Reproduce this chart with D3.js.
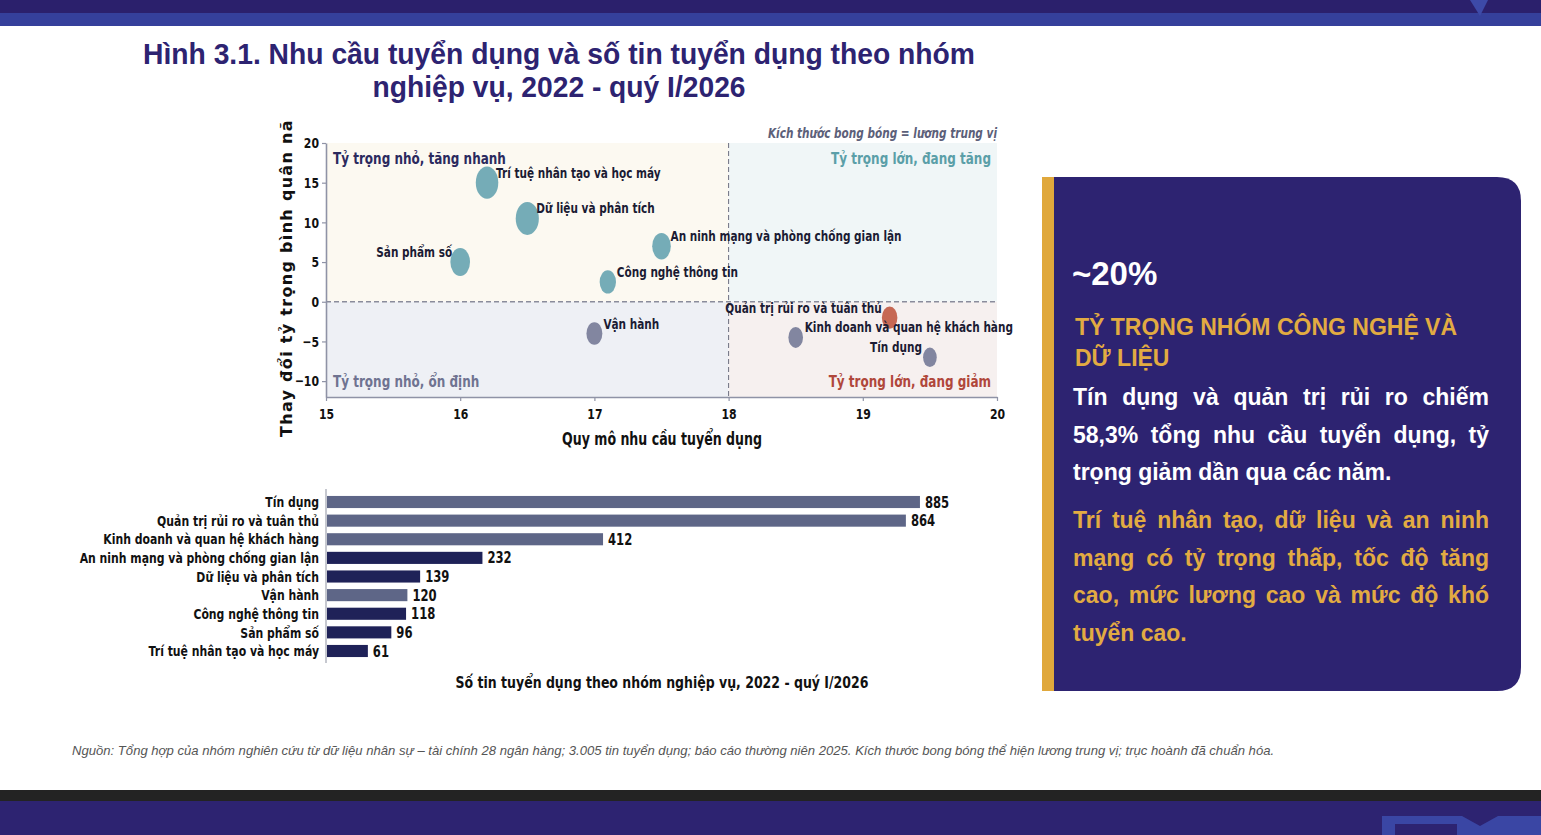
<!DOCTYPE html>
<html>
<head>
<meta charset="utf-8">
<script src="https://cdn.jsdelivr.net/npm/d3@7"></script>
<style>
body { margin: 0; background: #fff; }
svg { display: block; }
</style>
</head>
<body>
<div id="chart"></div>
<script>
// categories as they appear in the bar chart, top to bottom
var categories = ["Tín dụng", "Quản trị rủi ro và tuân thủ", "Kinh doanh và quan hệ khách hàng",
        "An ninh mạng và phòng chống gian lận", "Dữ liệu và phân tích", "Vận hành",
        "Công nghệ thông tin", "Sản phẩm số", "Trí tuệ nhân tạo và học máy"],
    groups = ["core", "core", "core", "tech", "tech", "core", "tech", "tech", "tech"],
    postings = [885, 864, 412, 232, 139, 120, 118, 96, 61],
    demandScale = [19.5, 19.2, 18.5, 17.5, 16.5, 17.0, 17.1, 16.0, 16.2],
    shareChange = [-7, -2, -4.5, 7, 10.5, -4, 2.5, 5, 15],
    medianSalary = [14, 18, 16, 26, 40, 19, 20, 29, 38],
    xTicks = [15, 16, 17, 18, 19, 20],
    yTicks = [-10, -5, 0, 5, 10, 15, 20];

var W = 1541, H = 835,
    K = 0.75,
    chartFont = "'DejaVu Sans', sans-serif",
    navy = "#2d2371",
    gold = "#e2ab42";

var svg = d3.select("#chart").append("svg").attr("width", W).attr("height", H);

// squeeze text horizontally like the original (narrow render)
var squish = function(sel, k) {
    sel.each(function() {
        var w = this.getComputedTextLength();
        d3.select(this).attr("textLength", w * k).attr("lengthAdjust", "spacingAndGlyphs");
    });
};

// page bands
svg.append("rect").attr("x", 0).attr("y", 0).attr("width", W).attr("height", 13).attr("fill", "#2b206c");
svg.append("rect").attr("x", 0).attr("y", 13).attr("width", W).attr("height", 13).attr("fill", "#35409b");
svg.append("path").attr("d", "M1470,0 L1488,0 L1480,16 Z").attr("fill", "#3d4aa8");
svg.append("rect").attr("x", 0).attr("y", 790).attr("width", W).attr("height", 11).attr("fill", "#232323");
svg.append("rect").attr("x", 0).attr("y", 801).attr("width", W).attr("height", 34).attr("fill", navy);
svg.append("path").attr("d", "M1382,835 L1382,816 L1462,816 L1480,826 L1498,816 L1541,816 L1541,835 Z").attr("fill", "#3a46a4");
svg.append("rect").attr("x", 1395).attr("y", 824).attr("width", 62).attr("height", 11).attr("fill", navy);

// title
var title = svg.append("g").attr("font-family", "'Liberation Sans', Arial, sans-serif")
    .attr("font-weight", "bold").attr("font-size", 29).attr("fill", navy).attr("text-anchor", "middle");
title.append("text").attr("x", 559).attr("y", 64)
    .text("Hình 3.1. Nhu cầu tuyển dụng và số tin tuyển dụng theo nhóm")
    .attr("textLength", 832).attr("lengthAdjust", "spacingAndGlyphs");
title.append("text").attr("x", 559).attr("y", 97)
    .text("nghiệp vụ, 2022 - quý I/2026")
    .attr("textLength", 373).attr("lengthAdjust", "spacingAndGlyphs");

// ---------- bubble chart ----------
var sx = d3.scaleLinear().domain([15, 20]).range([326, 997]),
    sy = d3.scaleLinear().domain([-12, 20]).range([397, 143]),
    sr = d3.scaleSqrt().domain([0, 40]).range([0, 16.5]);

var plot = svg.append("g").attr("font-family", chartFont).attr("font-weight", "bold");

var quads = [
    {x0: 15, x1: 18, y0: 0, y1: 20, fill: "#fcf9f1"},
    {x0: 18, x1: 20, y0: 0, y1: 20, fill: "#f0f6f7"},
    {x0: 15, x1: 18, y0: -12, y1: 0, fill: "#eef0f5"},
    {x0: 18, x1: 20, y0: -12, y1: 0, fill: "#f6f0ef"}
];
plot.selectAll("rect.quad").data(quads).enter().append("rect").attr("class", "quad")
    .attr("x", function(d) { return sx(d.x0); })
    .attr("y", function(d) { return sy(d.y1); })
    .attr("width", function(d) { return sx(d.x1) - sx(d.x0); })
    .attr("height", function(d) { return sy(d.y0) - sy(d.y1); })
    .attr("fill", function(d) { return d.fill; });

plot.append("line").attr("x1", sx(15)).attr("x2", sx(20)).attr("y1", sy(0)).attr("y2", sy(0))
    .attr("stroke", "#8a8c9c").attr("stroke-width", 1.3).attr("stroke-dasharray", "5,3");
plot.append("line").attr("x1", sx(18)).attr("x2", sx(18)).attr("y1", sy(20)).attr("y2", sy(-12))
    .attr("stroke", "#6e7080").attr("stroke-width", 1).attr("stroke-dasharray", "5,3");

// axes
var yAxis = plot.append("g").attr("transform", "translate(326,0)")
    .call(d3.axisLeft(sy).tickValues(yTicks).tickSize(4).tickSizeOuter(0).tickPadding(3));
var xAxis = plot.append("g").attr("transform", "translate(0,397)")
    .call(d3.axisBottom(sx).tickValues(xTicks).tickFormat(d3.format("d")).tickSize(4).tickSizeOuter(0).tickPadding(8));
[yAxis, xAxis].forEach(function(ax) {
    ax.attr("font-family", chartFont).attr("font-weight", "bold").attr("font-size", 14.5);
    ax.select(".domain").attr("stroke", "#8f93a6").attr("stroke-width", 1.6);
    ax.selectAll(".tick line").attr("stroke", "#8f93a6").attr("stroke-width", 1.2);
    ax.selectAll(".tick text").attr("fill", "#111");
    squish(ax.selectAll(".tick text"), K);
});

// quadrant captions
var caps = [
    {t: "Tỷ trọng nhỏ, tăng nhanh", x: 333, y: 164, a: "start", c: "#2b2a5e"},
    {t: "Tỷ trọng lớn, đang tăng", x: 991, y: 164, a: "end", c: "#5b9fa8"},
    {t: "Tỷ trọng nhỏ, ổn định", x: 333, y: 387, a: "start", c: "#6f7391"},
    {t: "Tỷ trọng lớn, đang giảm", x: 991, y: 387, a: "end", c: "#b0473b"}
];
squish(plot.selectAll("text.cap").data(caps).enter().append("text").attr("class", "cap")
    .attr("x", function(d) { return d.x; }).attr("y", function(d) { return d.y; })
    .attr("text-anchor", function(d) { return d.a; })
    .attr("fill", function(d) { return d.c; }).attr("font-size", 16)
    .text(function(d) { return d.t; }), K);

squish(plot.append("text").attr("x", 997).attr("y", 138).attr("text-anchor", "end")
    .attr("font-size", 14).attr("font-style", "italic").attr("fill", "#5c6079")
    .text("Kích thước bong bóng = lương trung vị"), K);

// bubbles
var points = categories.map(function(c, i) {
    return {name: c, group: groups[i], x: demandScale[i], y: shareChange[i], s: medianSalary[i]};
});
var highlight = "Quản trị rủi ro và tuân thủ",
    leftLabels = ["Sản phẩm số", "Quản trị rủi ro và tuân thủ", "Tín dụng"];
var bubbleColor = function(d) {
    if (d.name === highlight) return "#c3604b";
    return d.group === "tech" ? "#6ea8b3" : "#7b7f9b";
};

plot.selectAll("ellipse.bubble").data(points).enter().append("ellipse").attr("class", "bubble")
    .attr("cx", function(d) { return sx(d.x); })
    .attr("cy", function(d) { return sy(d.y); })
    .attr("rx", function(d) { return sr(d.s) * 0.7; })
    .attr("ry", function(d) { return sr(d.s); })
    .attr("fill", bubbleColor).attr("fill-opacity", 0.95);

squish(plot.selectAll("text.blabel").data(points).enter().append("text").attr("class", "blabel")
    .attr("x", function(d) { return sx(d.x) + (leftLabels.indexOf(d.name) >= 0 ? -8 : 9); })
    .attr("y", function(d) { return sy(d.y) - 5; })
    .attr("text-anchor", function(d) { return leftLabels.indexOf(d.name) >= 0 ? "end" : "start"; })
    .attr("font-size", 14).attr("fill", "#1b1b33")
    .text(function(d) { return d.name; }), K);

// y axis title, clipped at the top like the original crop
svg.append("clipPath").attr("id", "yclip").append("rect")
    .attr("x", 260).attr("y", 118).attr("width", 50).attr("height", 340);
svg.append("g").attr("clip-path", "url(#yclip)")
    .append("text")
    .attr("transform", "translate(292,437) rotate(-90)")
    .attr("font-family", chartFont).attr("font-weight", "bold").attr("font-size", 16)
    .attr("letter-spacing", 1.3).attr("fill", "#111")
    .text("Thay đổi tỷ trọng bình quân năm (%)");

squish(plot.append("text").attr("x", 662).attr("y", 445).attr("text-anchor", "middle")
    .attr("font-size", 16.8).attr("fill", "#111").text("Quy mô nhu cầu tuyển dụng"), K);

// ---------- bar chart ----------
var bx = d3.scaleLinear().domain([0, 1000]).range([327, 997]),
    by = d3.scaleBand().domain(categories).range([492.7, 660.3]).paddingInner(0.35).paddingOuter(0.175);

var bars = svg.append("g").attr("font-family", chartFont).attr("font-weight", "bold");
bars.selectAll("rect").data(points).enter().append("rect")
    .attr("x", bx(0))
    .attr("y", function(d) { return by(d.name); })
    .attr("width", function(d, i) { return bx(postings[i]) - bx(0); })
    .attr("height", by.bandwidth())
    .attr("fill", function(d) { return d.group === "tech" ? "#1f2258" : "#5e6687"; });

bars.append("line").attr("x1", 326).attr("x2", 326).attr("y1", 489).attr("y2", 663)
    .attr("stroke", "#a0a3b0").attr("stroke-width", 1.2);

squish(bars.selectAll("text.val").data(postings).enter().append("text").attr("class", "val")
    .attr("x", function(d) { return bx(d) + 5; })
    .attr("y", function(d, i) { return by(categories[i]) + by.bandwidth() / 2; })
    .attr("dy", "0.36em").attr("font-size", 15.5).attr("fill", "#111")
    .text(function(d) { return d; }), K);

squish(bars.selectAll("text.cat").data(categories).enter().append("text").attr("class", "cat")
    .attr("x", 319)
    .attr("y", function(d) { return by(d) + by.bandwidth() / 2; })
    .attr("dy", "0.36em").attr("text-anchor", "end").attr("font-size", 14.5).attr("fill", "#111")
    .text(function(d) { return d; }), K);

squish(bars.append("text").attr("x", 662).attr("y", 688).attr("text-anchor", "middle")
    .attr("font-size", 16.7).attr("fill", "#111")
    .text("Số tin tuyển dụng theo nhóm nghiệp vụ, 2022 - quý I/2026"), K);

// ---------- side panel ----------
svg.append("path")
    .attr("d", "M1054,177 L1497,177 Q1521,177 1521,201 L1521,667 Q1521,691 1497,691 L1054,691 Z")
    .attr("fill", navy);
svg.append("rect").attr("x", 1042).attr("y", 177).attr("width", 12).attr("height", 514).attr("fill", "#e0a83c");

var panel = svg.append("g").attr("font-family", "'Liberation Sans', Arial, sans-serif").attr("font-weight", "bold");
panel.append("text").attr("x", 1072).attr("y", 285).attr("font-size", 33).attr("fill", "#fff").text("~20%");
panel.append("text").attr("x", 1075).attr("y", 335).attr("font-size", 23).attr("fill", gold)
    .text("TỶ TRỌNG NHÓM CÔNG NGHỆ VÀ");
panel.append("text").attr("x", 1075).attr("y", 366).attr("font-size", 23).attr("fill", gold)
    .text("DỮ LIỆU");

// justified paragraph lines
var justify = function(lines, y0, color) {
    lines.forEach(function(line, li) {
        var t = panel.append("text").attr("y", y0 + li * 37.5).attr("font-size", 23).attr("fill", color);
        var words = line.split(" ");
        var spans = words.map(function(w) { return t.append("tspan").text(w); });
        var widths = spans.map(function(s) { return s.node().getComputedTextLength(); });
        var last = li === lines.length - 1;
        var gap = last ? 6.4 : (416 - d3.sum(widths)) / (words.length - 1);
        var x = 1073;
        spans.forEach(function(s, i) { s.attr("x", x); x += widths[i] + gap; });
    });
};
justify(["Tín dụng và quản trị rủi ro chiếm", "58,3% tổng nhu cầu tuyển dụng, tỷ",
    "trọng giảm dần qua các năm."], 405, "#fff");
justify(["Trí tuệ nhân tạo, dữ liệu và an ninh", "mạng có tỷ trọng thấp, tốc độ tăng",
    "cao, mức lương cao và mức độ khó", "tuyển cao."], 528, gold);

// footnote
svg.append("text").attr("x", 72).attr("y", 755)
    .attr("font-family", "'Liberation Sans', Arial, sans-serif").attr("font-style", "italic")
    .attr("font-size", 13.1).attr("fill", "#555")
    .text("Nguồn: Tổng hợp của nhóm nghiên cứu từ dữ liệu nhân sự – tài chính 28 ngân hàng; 3.005 tin tuyển dụng; báo cáo thường niên 2025. Kích thước bong bóng thể hiện lương trung vị; trục hoành đã chuẩn hóa.");
</script>
</body>
</html>
